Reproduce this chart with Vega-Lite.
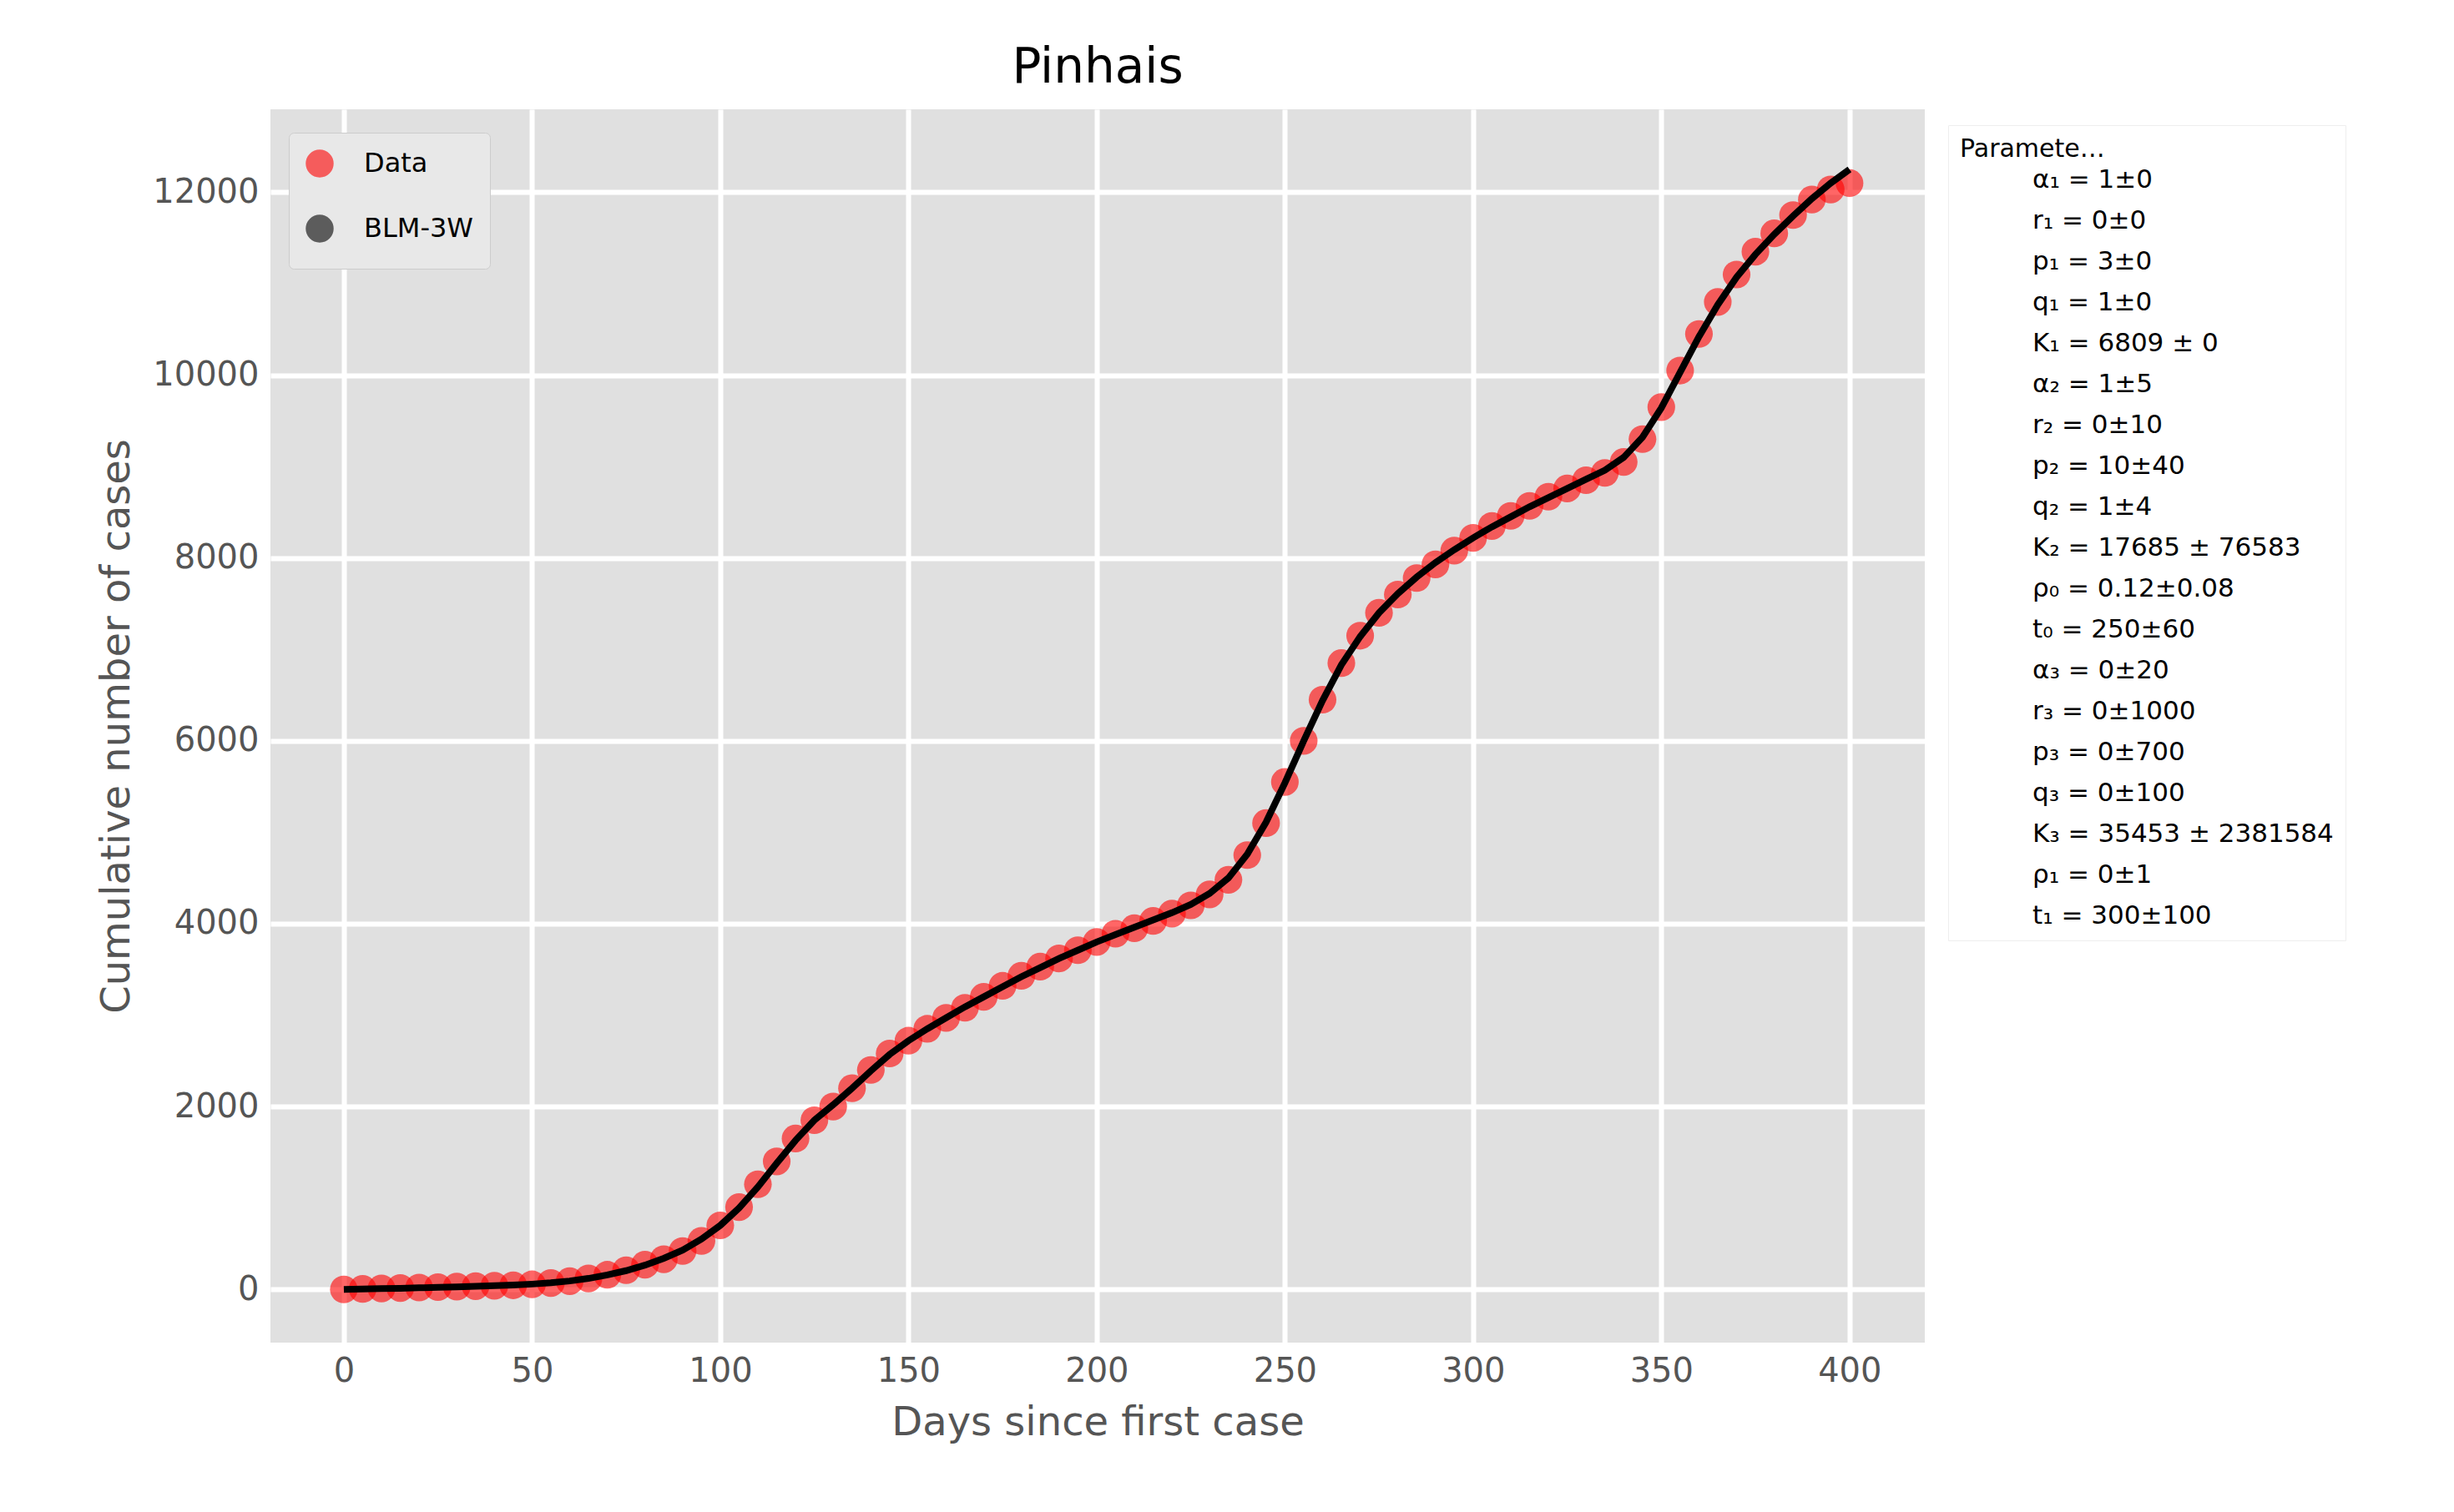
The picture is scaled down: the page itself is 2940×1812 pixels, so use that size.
{
  "$schema": "https://vega.github.io/schema/vega-lite/v6.json",
  "autosize": "none",
  "width": 1982,
  "height": 1478,
  "padding": {"left": 324, "top": 131, "right": 634, "bottom": 203},
  "background": "white",
  "view": {"fill": "#e0e0e0", "stroke": null},
  "config": {
    "font": "DejaVu Sans",
    "view": {"fill": "#e0e0e0", "stroke": null},
    "axis": {"grid": true, "gridColor": "white", "gridWidth": 6, "domain": false, "ticks": false, "labelPadding": 14,
      "labelFontSize": 40, "labelColor": "#555", "titleFontSize": 48, "titleColor": "#555", "titleFontWeight": "normal", "titlePadding": 18}
  },
  "title": {"text": "Pinhais", "fontSize": 58, "fontWeight": "normal", "color": "black", "offset": 20},
  "datasets": {
    "cases": [
      {"day": 0, "data": 0, "fit": 0}, {"day": 5, "data": 5, "fit": 4}, {"day": 10, "data": 10, "fit": 8},
      {"day": 15, "data": 15, "fit": 12}, {"day": 20, "data": 20, "fit": 17}, {"day": 25, "data": 25, "fit": 22},
      {"day": 30, "data": 30, "fit": 28}, {"day": 35, "data": 35, "fit": 34}, {"day": 40, "data": 40, "fit": 40},
      {"day": 45, "data": 45, "fit": 48}, {"day": 50, "data": 55, "fit": 58}, {"day": 55, "data": 70, "fit": 72},
      {"day": 60, "data": 90, "fit": 92}, {"day": 65, "data": 120, "fit": 120}, {"day": 70, "data": 160, "fit": 158},
      {"day": 75, "data": 210, "fit": 205}, {"day": 80, "data": 270, "fit": 265}, {"day": 85, "data": 330, "fit": 340},
      {"day": 90, "data": 420, "fit": 430}, {"day": 95, "data": 530, "fit": 550}, {"day": 100, "data": 700, "fit": 700},
      {"day": 105, "data": 900, "fit": 890}, {"day": 110, "data": 1150, "fit": 1120}, {"day": 115, "data": 1400, "fit": 1380},
      {"day": 120, "data": 1650, "fit": 1630}, {"day": 125, "data": 1850, "fit": 1850}, {"day": 130, "data": 2000, "fit": 2020},
      {"day": 135, "data": 2200, "fit": 2200}, {"day": 140, "data": 2400, "fit": 2390}, {"day": 145, "data": 2580, "fit": 2570},
      {"day": 150, "data": 2720, "fit": 2720}, {"day": 155, "data": 2850, "fit": 2850}, {"day": 160, "data": 2970, "fit": 2970},
      {"day": 165, "data": 3080, "fit": 3090}, {"day": 170, "data": 3200, "fit": 3200}, {"day": 175, "data": 3320, "fit": 3310},
      {"day": 180, "data": 3430, "fit": 3420}, {"day": 185, "data": 3530, "fit": 3520}, {"day": 190, "data": 3620, "fit": 3620},
      {"day": 195, "data": 3710, "fit": 3710}, {"day": 200, "data": 3800, "fit": 3800}, {"day": 205, "data": 3890, "fit": 3880},
      {"day": 210, "data": 3950, "fit": 3960}, {"day": 215, "data": 4030, "fit": 4040}, {"day": 220, "data": 4110, "fit": 4120},
      {"day": 225, "data": 4200, "fit": 4210}, {"day": 230, "data": 4320, "fit": 4330}, {"day": 235, "data": 4480, "fit": 4500},
      {"day": 240, "data": 4750, "fit": 4760}, {"day": 245, "data": 5100, "fit": 5110}, {"day": 250, "data": 5550, "fit": 5540},
      {"day": 255, "data": 6000, "fit": 6000}, {"day": 260, "data": 6450, "fit": 6440}, {"day": 265, "data": 6850, "fit": 6830},
      {"day": 270, "data": 7150, "fit": 7140}, {"day": 275, "data": 7400, "fit": 7400}, {"day": 280, "data": 7600, "fit": 7610},
      {"day": 285, "data": 7780, "fit": 7790}, {"day": 290, "data": 7930, "fit": 7950}, {"day": 295, "data": 8080, "fit": 8090},
      {"day": 300, "data": 8220, "fit": 8220}, {"day": 305, "data": 8350, "fit": 8340}, {"day": 310, "data": 8460, "fit": 8450},
      {"day": 315, "data": 8570, "fit": 8560}, {"day": 320, "data": 8670, "fit": 8660}, {"day": 325, "data": 8760, "fit": 8760},
      {"day": 330, "data": 8850, "fit": 8860}, {"day": 335, "data": 8930, "fit": 8960}, {"day": 340, "data": 9050, "fit": 9100},
      {"day": 345, "data": 9300, "fit": 9320}, {"day": 350, "data": 9650, "fit": 9640}, {"day": 355, "data": 10050, "fit": 10030},
      {"day": 360, "data": 10450, "fit": 10420}, {"day": 365, "data": 10800, "fit": 10770}, {"day": 370, "data": 11100, "fit": 11070},
      {"day": 375, "data": 11350, "fit": 11320}, {"day": 380, "data": 11550, "fit": 11540}, {"day": 385, "data": 11750, "fit": 11740},
      {"day": 390, "data": 11920, "fit": 11930}, {"day": 395, "data": 12030, "fit": 12100}, {"day": 400, "data": 12100, "fit": 12250}
    ],
    "params": [
      {"p": "α₁ = 1±0"}, {"p": "r₁ = 0±0"}, {"p": "p₁ = 3±0"}, {"p": "q₁ = 1±0"}, {"p": "K₁ = 6809 ± 0"},
      {"p": "α₂ = 1±5"}, {"p": "r₂ = 0±10"}, {"p": "p₂ = 10±40"}, {"p": "q₂ = 1±4"}, {"p": "K₂ = 17685 ± 76583"},
      {"p": "ρ₀ = 0.12±0.08"}, {"p": "t₀ = 250±60"}, {"p": "α₃ = 0±20"}, {"p": "r₃ = 0±1000"}, {"p": "p₃ = 0±700"},
      {"p": "q₃ = 0±100"}, {"p": "K₃ = 35453 ± 2381584"}, {"p": "ρ₁ = 0±1"}, {"p": "t₁ = 300±100"}
    ]
  },
  "layer": [
    {
      "data": {"name": "cases"},
      "mark": {"type": "point", "filled": true, "size": 1100, "opacity": 0.6, "color": "red"},
      "encoding": {
        "x": {"field": "day", "type": "quantitative", "scale": {"domain": [-19.5, 420], "nice": false},
          "axis": {"values": [0, 50, 100, 150, 200, 250, 300, 350, 400]}, "title": "Days since first case"},
        "y": {"field": "data", "type": "quantitative", "scale": {"domain": [-582, 12907], "nice": false},
          "axis": {"values": [0, 2000, 4000, 6000, 8000, 10000, 12000], "format": "d"}, "title": "Cumulative  number of cases"},
        "color": {"datum": "Data", "type": "nominal",
          "scale": {"domain": ["Data", "BLM-3W"], "range": ["red", "black"]},
          "legend": {"title": null, "orient": "none", "legendX": 22, "legendY": 28, "labelFontSize": 32, "labelColor": "black",
            "symbolSize": 700, "symbolStrokeWidth": 7, "rowPadding": 22, "padding": 20, "fillColor": "#e8e8e8", "strokeColor": "#cccccc",
            "cornerRadius": 6, "labelOffset": 36,
            "encode": {"symbols": {
              "enter": {
                "shape": {"signal": "datum.value === 'BLM-3W' ? 'stroke' : 'circle'"},
                "stroke": {"signal": "datum.value === 'BLM-3W' ? 'black' : 'red'"},
                "fill": {"signal": "datum.value === 'BLM-3W' ? 'transparent' : 'red'"},
                "opacity": {"signal": "datum.value === 'BLM-3W' ? 1 : 0.55"}},
              "update": {
                "shape": {"signal": "datum.value === 'BLM-3W' ? 'stroke' : 'circle'"},
                "stroke": {"signal": "datum.value === 'BLM-3W' ? 'black' : 'red'"},
                "fill": {"signal": "datum.value === 'BLM-3W' ? 'transparent' : 'red'"},
                "opacity": {"signal": "datum.value === 'BLM-3W' ? 1 : 0.55"}}}}}}
      }
    },
    {
      "data": {"name": "cases"},
      "mark": {"type": "line", "strokeWidth": 8, "color": "black"},
      "encoding": {
        "x": {"field": "day", "type": "quantitative"},
        "y": {"field": "fit", "type": "quantitative"},
        "color": {"datum": "BLM-3W", "type": "nominal"}
      }
    },
    {
      "data": {"name": "params"},
      "mark": {"type": "point", "opacity": 0},
      "encoding": {
        "shape": {"field": "p", "type": "nominal", "sort": null, "scale": {"range": ["circle"]},
          "legend": {"title": "Parameters:", "orient": "none", "legendX": 2010, "legendY": 19,
            "titleFontSize": 30, "titleFontWeight": "normal", "titleColor": "black", "titlePadding": 6,
            "labelFontSize": 31, "labelColor": "black", "symbolOpacity": 0, "symbolSize": 10, "labelOffset": 56,
            "rowPadding": 17, "padding": 14, "fillColor": "white", "strokeColor": "#eeeeee", "labelLimit": 800,
            "columns": 1, "symbolLimit": 0}}
      }
    }
  ]
}
